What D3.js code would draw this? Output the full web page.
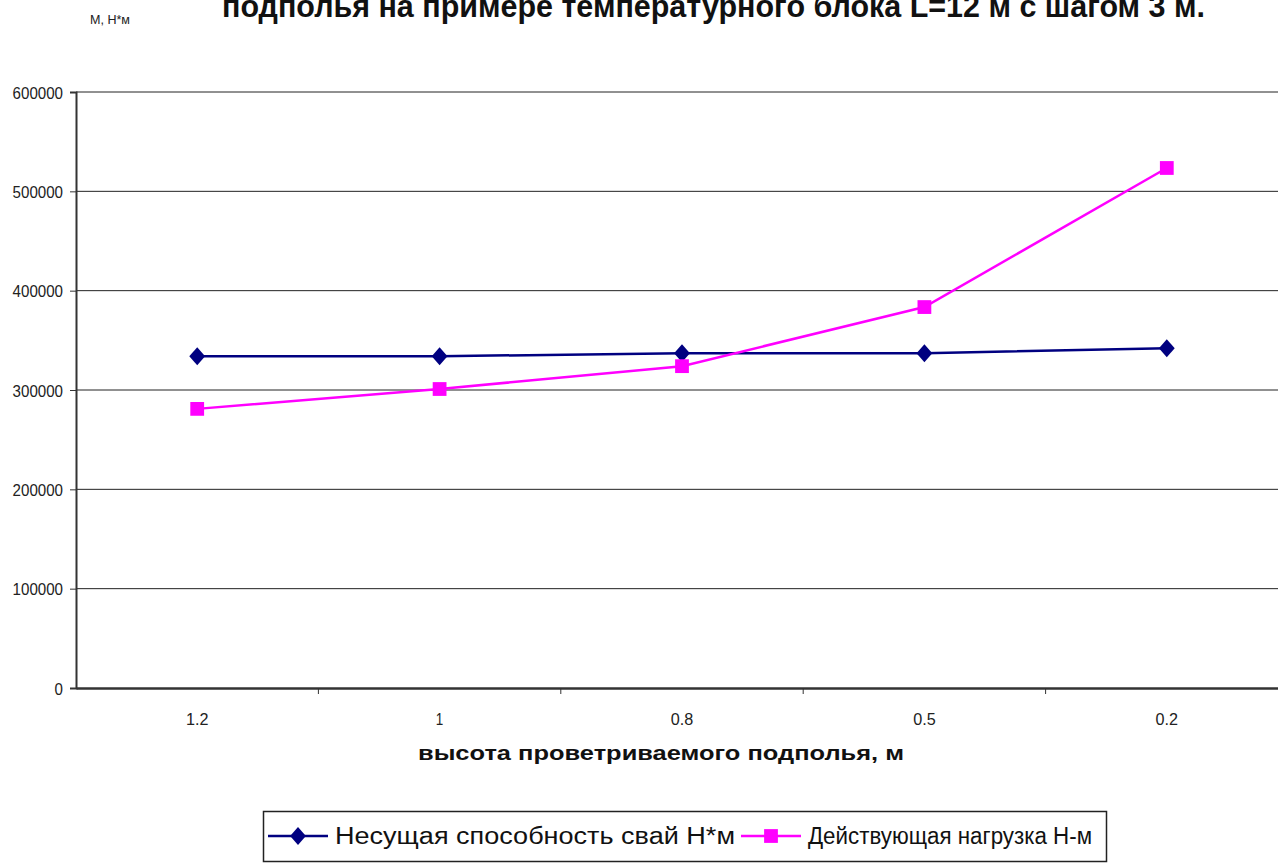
<!DOCTYPE html>
<html>
<head>
<meta charset="utf-8">
<script src="https://cdn.jsdelivr.net/npm/d3@7"></script>
<style>
  body { margin: 0; background: #fff; }
  svg { display: block; font-family: 'Liberation Sans', Arial, sans-serif; }
</style>
</head>
<body>
<svg id="chart" width="1278" height="865"></svg>
<script>
'use strict'

const categories = ['1.2', '1', '0.8', '0.5', '0.2']
const capacity = [334000, 334000, 337000, 337000, 342000]
const load = [281000, 301000, 324000, 383500, 523500]
const yTicks = [0, 100000, 200000, 300000, 400000, 500000, 600000]
const seriesNames = ['Несущая способность свай Н*м', 'Действующая нагрузка Н-м']

const svg = d3.select('#chart')
const left = 76

const x = d3.scaleBand().domain(categories).range([left, 1288])
const y = d3.scaleLinear().domain([0, 600000]).range([688, 92])

// gridlines
svg.append('g')
  .selectAll('line')
  .data(yTicks.slice(1))
  .join('line')
  .attr('x1', left).attr('x2', 1278)
  .attr('y1', d => y(d)).attr('y2', d => y(d))
  .attr('stroke', '#222').attr('stroke-width', 1)

// y axis
const yAxis = d3.axisLeft(y).tickValues(yTicks).tickSize(6).tickFormat(d3.format('d'))
const gy = svg.append('g').attr('transform', `translate(${left},0)`).call(yAxis)
gy.select('.domain').attr('stroke', '#333').attr('stroke-width', 2)
gy.selectAll('.tick line').attr('stroke', '#333')
gy.selectAll('.tick text')
  .attr('font-size', 17).attr('fill', '#222').attr('x', -13).attr('dy', '0.36em')
  .attr('textLength', d => String(d).length * 8.4).attr('lengthAdjust', 'spacingAndGlyphs')

// x axis
const xAxis = d3.axisBottom(x).tickSize(0).tickPadding(25)
const gx = svg.append('g').attr('transform', 'translate(0,688)').call(xAxis)
gx.select('.domain').attr('stroke', '#333').attr('stroke-width', 2.5)
gx.selectAll('.tick text')
  .attr('font-size', 17).attr('fill', '#222')
  .attr('textLength', d => d.length * 7.5).attr('lengthAdjust', 'spacingAndGlyphs')
// boundary ticks between categories
svg.append('g')
  .selectAll('line')
  .data(categories.slice(1))
  .join('line')
  .attr('x1', d => x(d)).attr('x2', d => x(d))
  .attr('y1', 688).attr('y2', 694)
  .attr('stroke', '#333')

const cx = d => x(d) + x.bandwidth() / 2
const line = d3.line().x(d => cx(d.cat)).y(d => y(d.v))

const diamond = d3.symbol().type(d3.symbolSquare).size(125)
const square = d3.symbol().type(d3.symbolSquare).size(190)

const series = [
  { name: seriesNames[0], color: '#000080', marker: diamond, tf: ' scale(1,1.15) rotate(45)',
    values: categories.map((c, i) => ({ cat: c, v: capacity[i] })) },
  { name: seriesNames[1], color: '#ff00ff', marker: square, tf: '',
    values: categories.map((c, i) => ({ cat: c, v: load[i] })) }
]

series.forEach(s => {
  svg.append('path')
    .datum(s.values)
    .attr('d', line)
    .attr('fill', 'none')
    .attr('stroke', s.color)
    .attr('stroke-width', 2.5)
  svg.append('g')
    .selectAll('path')
    .data(s.values)
    .join('path')
    .attr('d', s.marker)
    .attr('transform', d => `translate(${cx(d.cat)},${y(d.v)})${s.tf}`)
    .attr('fill', s.color)
})

// title (clipped at top edge)
svg.append('text')
  .attr('x', 222).attr('y', 17)
  .attr('font-size', 31).attr('font-weight', 'bold').attr('fill', '#111')
  .attr('textLength', 983).attr('lengthAdjust', 'spacingAndGlyphs')
  .text('подполья на примере температурного блока L=12 м с шагом 3 м.')

// y label
svg.append('text')
  .attr('x', 90).attr('y', 24)
  .attr('font-size', 13).attr('fill', '#222')
  .attr('textLength', 40).attr('lengthAdjust', 'spacingAndGlyphs')
  .text('М, Н*м')

// x title
svg.append('text')
  .attr('x', 418).attr('y', 760)
  .attr('font-size', 21).attr('font-weight', 'bold').attr('fill', '#111')
  .attr('textLength', 486).attr('lengthAdjust', 'spacingAndGlyphs')
  .text('высота проветриваемого подполья, м')

// legend
const lg = svg.append('g')
lg.append('rect')
  .attr('x', 263.5).attr('y', 811.5).attr('width', 843).attr('height', 50)
  .attr('fill', '#fff').attr('stroke', '#222').attr('stroke-width', 1.5)
const legendItems = [
  { s: series[0], lx: 268, tx: 335, tw: 400 },
  { s: series[1], lx: 741, tx: 808, tw: 284 }
]
legendItems.forEach(it => {
  lg.append('line')
    .attr('x1', it.lx).attr('x2', it.lx + 60)
    .attr('y1', 836).attr('y2', 836)
    .attr('stroke', it.s.color).attr('stroke-width', 2.5)
  lg.append('path')
    .attr('d', it.s.marker)
    .attr('transform', `translate(${it.lx + 30},836)${it.s.tf}`)
    .attr('fill', it.s.color)
  lg.append('text')
    .attr('x', it.tx).attr('y', 844)
    .attr('font-size', 23).attr('fill', '#111')
    .attr('textLength', it.tw).attr('lengthAdjust', 'spacingAndGlyphs')
    .text(it.s.name)
})
</script>
</body>
</html>
